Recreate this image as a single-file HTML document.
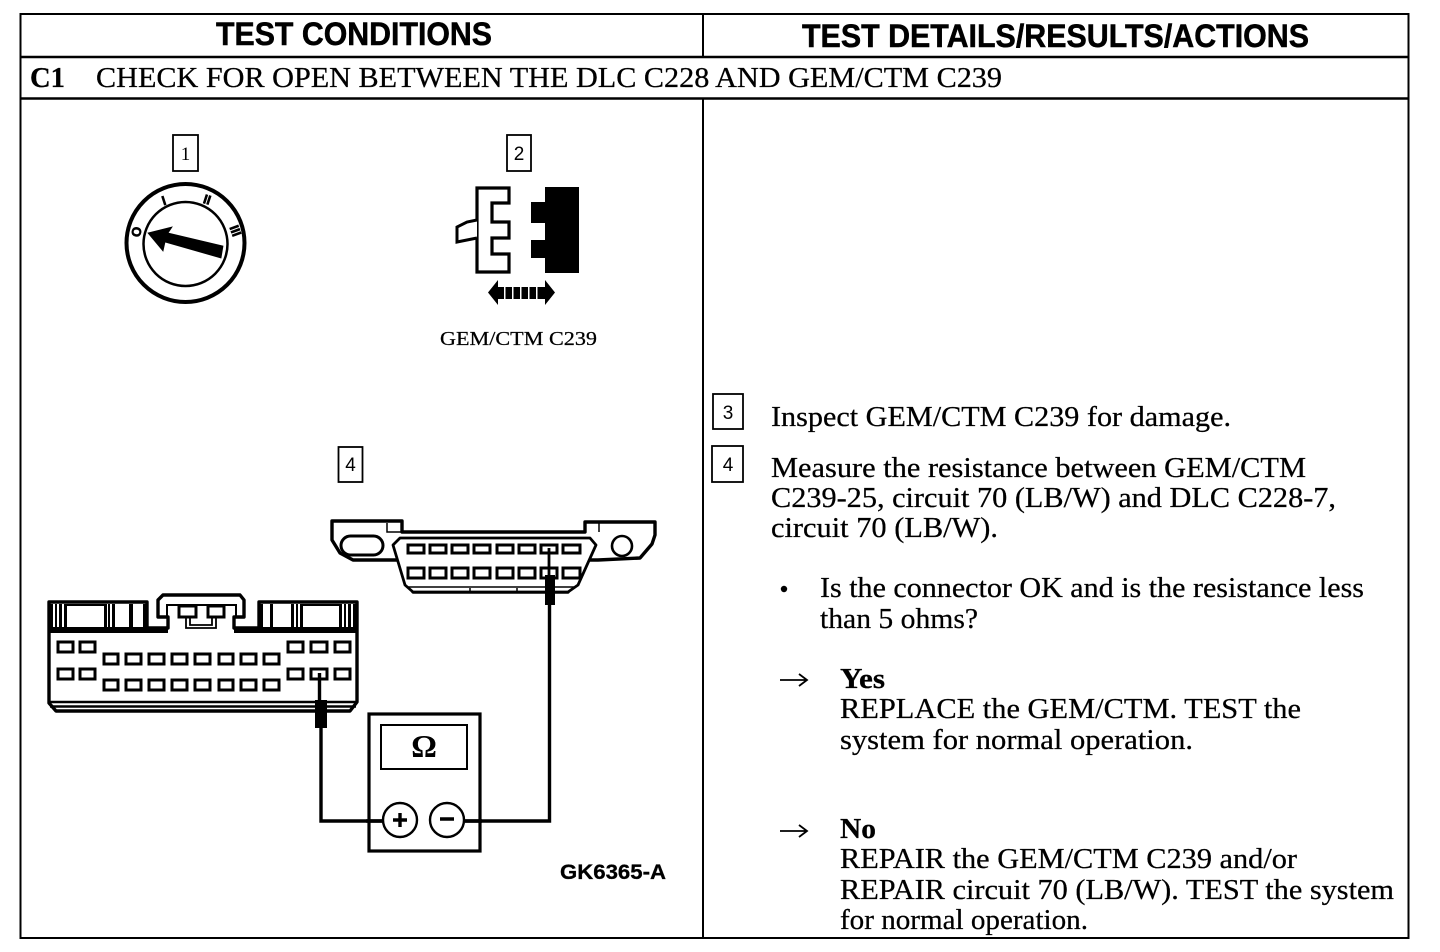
<!DOCTYPE html>
<html>
<head>
<meta charset="utf-8">
<style>
html,body{margin:0;padding:0;background:#fff;width:1440px;height:952px;overflow:hidden}
svg{display:block}
.s{font-family:"Liberation Serif",serif;fill:#000;stroke:#000;stroke-width:.25}
.t{font-size:28px}
.h{font-family:"Liberation Sans",sans-serif;font-weight:bold;font-size:32px;fill:#000;stroke:#000;stroke-width:.5}
.n{font-family:"Liberation Sans",sans-serif;font-size:19px;fill:#000;text-anchor:middle}
.slot{fill:#fff;stroke:#000;stroke-width:3}
</style>
</head>
<body>
<svg width="1440" height="952" viewBox="0 0 1440 952" xmlns="http://www.w3.org/2000/svg">
<rect width="1440" height="952" fill="#fff"/>

<!-- table -->
<g fill="none" stroke="#000">
<rect x="20.5" y="14" width="1388" height="924" stroke-width="2"/>
<path d="M20 57H1409M20 98.500H1409" stroke-width="2.500"/>
<path d="M703 14V57M703 98V938" stroke-width="2"/>
</g>
<text class="h" x="216" y="45" textLength="276" lengthAdjust="spacingAndGlyphs">TEST CONDITIONS</text>
<text class="h" x="802" y="47" textLength="507" lengthAdjust="spacingAndGlyphs">TEST DETAILS/RESULTS/ACTIONS</text>
<text class="s" x="30" y="87" font-size="29" font-weight="bold" textLength="35" lengthAdjust="spacingAndGlyphs">C1</text>
<text class="s" x="96" y="87" font-size="28" textLength="906" lengthAdjust="spacingAndGlyphs">CHECK FOR OPEN BETWEEN THE DLC C228 AND GEM/CTM C239</text>

<!-- callout boxes -->
<g fill="#fff" stroke="#000" stroke-width="1.800">
<rect x="173" y="135" width="25" height="36"/>
<rect x="507" y="135" width="24" height="36"/>
<rect x="338.500" y="447" width="24" height="35"/>
<rect x="713" y="394" width="30" height="35"/>
<rect x="712" y="446" width="31" height="36"/>
</g>
<text class="n" x="185.500" y="160" style="font-family:'Liberation Serif',serif">1</text>
<text class="n" x="519" y="160">2</text>
<text class="n" x="350.500" y="471">4</text>
<text class="n" x="728" y="419">3</text>
<text class="n" x="728" y="471">4</text>

<!-- key switch -->
<circle cx="185.500" cy="243" r="59" fill="none" stroke="#000" stroke-width="4"/>
<circle cx="185.500" cy="244" r="42" fill="none" stroke="#000" stroke-width="2.500"/>
<path d="M148 233L172 227L168 233L223 246L221 258L165 242L163 251Z" fill="#000" stroke="#000" stroke-width=".8"/>
<g font-family="Liberation Sans,sans-serif" font-weight="bold" font-size="13" fill="#000" stroke="#000" stroke-width=".7" text-anchor="middle">
<text transform="translate(137 232) rotate(-80)" x="0" y="4">O</text>
<text transform="translate(164 201) rotate(-18)" x="0" y="4">I</text>
<text transform="translate(207 200) rotate(18)" x="0" y="4">II</text>
<text transform="translate(235 231) rotate(70)" x="0" y="4">III</text>
</g>

<!-- unplugged connector -->
<path d="M477 188H509V203H492V222H509V238H492V254H509V272H477Z" fill="#fff" stroke="#000" stroke-width="3.200"/>
<path d="M477 220L467 222L457 227V242L467 240L477 238" fill="#fff" stroke="#000" stroke-width="3"/>
<path d="M545 187H579V273H545V258H531V240H545V223H531V202H545Z" fill="#000"/>
<path d="M488 292.500L498 280V305ZM555 292.500L545 280V305Z" fill="#000"/>
<g fill="#000">
<rect x="498" y="287" width="6" height="12"/>
<rect x="505.500" y="287" width="6.500" height="12"/>
<rect x="513.500" y="287" width="6.500" height="12"/>
<rect x="521.500" y="287" width="6.500" height="12"/>
<rect x="529.500" y="287" width="6.500" height="12"/>
<rect x="537.500" y="287" width="7.500" height="12"/>
</g>
<text class="s" x="440" y="345" font-size="20" textLength="157" lengthAdjust="spacingAndGlyphs">GEM/CTM C239</text>

<!-- DLC connector -->
<path d="M332 521H402V532H585V522H655V535L652 544L640 558L598 560H580L568 592H413L400 560H353L340 553L332 540Z" fill="#fff" stroke="#000" stroke-width="3.400" stroke-linejoin="round"/>
<path d="M387 523V532H402M599 532V523" fill="none" stroke="#000" stroke-width="1.500"/>
<path d="M393 545L400 538H590L596 545L578 585L568 592H413L405 585Z" fill="#fff" stroke="#000" stroke-width="2.800" stroke-linejoin="round"/>
<path d="M408 587H575M470 588V592M517 588V592" stroke="#000" stroke-width="1.500" fill="none"/>
<rect x="341" y="536" width="42" height="19" rx="9.500" fill="#fff" stroke="#000" stroke-width="3"/>
<circle cx="622" cy="546" r="10" fill="#fff" stroke="#000" stroke-width="2.600"/>
<g class="slot">
<rect x="408" y="545" width="16" height="8"/><rect x="430" y="545" width="16" height="8"/><rect x="452" y="545" width="16" height="8"/><rect x="474" y="545" width="16" height="8"/><rect x="497" y="545" width="16" height="8"/><rect x="519" y="545" width="16" height="8"/><rect x="541" y="545" width="16" height="8"/><rect x="563" y="545" width="17" height="8"/>
<rect x="408" y="568" width="16" height="10"/><rect x="430" y="568" width="16" height="10"/><rect x="452" y="568" width="16" height="10"/><rect x="474" y="568" width="16" height="10"/><rect x="497" y="568" width="16" height="10"/><rect x="519" y="568" width="16" height="10"/><rect x="541" y="568" width="16" height="10"/><rect x="563" y="568" width="17" height="10"/>
</g>

<!-- GEM connector -->
<path d="M49 602H147V628H168V617H158V600L163 595H240L244 600V617H234V628H259V602H357V702L350 711H56L49 703Z" fill="#fff" stroke="#000" stroke-width="3.400" stroke-linejoin="round"/>
<path d="M49 627H168V633H49ZM234 627H357V633H234Z" fill="#000"/>
<path d="M167 617V605H236V617" fill="none" stroke="#000" stroke-width="2"/>
<path d="M50 702H356M50 706.500H356" stroke="#000" stroke-width="2.600" fill="none"/>
<g fill="#000">
<rect x="50" y="604" width="3" height="24"/><rect x="55" y="604" width="2" height="24"/><rect x="59" y="604" width="3" height="24"/><rect x="64" y="604" width="3" height="24"/>
<rect x="104" y="604" width="3" height="24"/><rect x="108" y="604" width="2" height="24"/><rect x="112" y="604" width="3" height="24"/>
<rect x="129" y="604" width="4" height="24"/><rect x="143" y="604" width="4" height="24"/>
<rect x="259" y="604" width="4" height="24"/><rect x="270" y="604" width="3" height="24"/>
<rect x="291" y="604" width="3" height="24"/><rect x="296" y="604" width="2" height="24"/><rect x="300" y="604" width="3" height="24"/>
<rect x="339" y="604" width="3" height="24"/><rect x="344" y="604" width="2" height="24"/><rect x="348" y="604" width="3" height="24"/><rect x="353" y="604" width="3" height="24"/>
<rect x="67" y="604" width="37" height="2"/><rect x="303" y="604" width="36" height="2"/>
</g>
<rect x="179" y="606" width="17" height="11" fill="#fff" stroke="#000" stroke-width="3"/>
<rect x="208" y="606" width="16" height="11" fill="#fff" stroke="#000" stroke-width="3"/>
<path d="M186 618V628H216V618M190 618V625H212V618" fill="none" stroke="#000" stroke-width="1.800"/>
<g class="slot">
<rect x="58" y="642" width="15" height="10"/><rect x="80" y="642" width="15" height="10"/>
<rect x="58" y="669" width="15" height="10"/><rect x="80" y="669" width="15" height="10"/>
<rect x="104" y="654" width="14" height="10"/><rect x="126" y="654" width="15" height="10"/><rect x="149" y="654" width="15" height="10"/><rect x="172" y="654" width="15" height="10"/><rect x="195" y="654" width="15" height="10"/><rect x="219" y="654" width="14" height="10"/><rect x="241" y="654" width="15" height="10"/><rect x="264" y="654" width="15" height="10"/>
<rect x="104" y="680" width="14" height="10"/><rect x="126" y="680" width="15" height="10"/><rect x="149" y="680" width="15" height="10"/><rect x="172" y="680" width="15" height="10"/><rect x="195" y="680" width="15" height="10"/><rect x="219" y="680" width="14" height="10"/><rect x="241" y="680" width="15" height="10"/><rect x="264" y="680" width="15" height="10"/>
<rect x="288" y="642" width="15" height="10"/><rect x="311" y="642" width="16" height="10"/><rect x="335" y="642" width="15" height="10"/>
<rect x="288" y="669" width="15" height="10"/><rect x="311" y="669" width="16" height="10"/><rect x="335" y="669" width="15" height="10"/>
</g>

<!-- probes and wires -->
<path d="M319.500 673V700" stroke="#000" stroke-width="3.400" fill="none"/>
<rect x="315" y="700" width="12" height="28" fill="#000"/>
<path d="M321 728V821H384M465 821H549.500V605" stroke="#000" stroke-width="3.400" fill="none"/>
<path d="M549 548V575" stroke="#000" stroke-width="2.800" fill="none"/>
<rect x="545" y="575" width="10" height="30" fill="#000"/>

<!-- meter -->
<rect x="369" y="714" width="111" height="137" fill="none" stroke="#000" stroke-width="3.200"/>
<rect x="381" y="725" width="86" height="44" fill="#fff" stroke="#000" stroke-width="2"/>
<path d="M366 821H384M465 821H482" stroke="#000" stroke-width="3.400" fill="none"/>
<text x="424" y="757" font-family="Liberation Serif,serif" font-weight="bold" font-size="32" text-anchor="middle" fill="#000">Ω</text>
<circle cx="400" cy="820" r="17" fill="#fff" stroke="#000" stroke-width="2.400"/>
<circle cx="447" cy="820" r="17" fill="#fff" stroke="#000" stroke-width="2.400"/>
<path d="M393 820H407M400 813V827M440 819H454" stroke="#000" stroke-width="3.400" fill="none"/>
<text x="560" y="879" font-family="Liberation Sans,sans-serif" font-weight="bold" font-size="21" fill="#000" stroke="#000" stroke-width=".3" textLength="106" lengthAdjust="spacingAndGlyphs">GK6365-A</text>

<!-- right column text -->
<g class="s t">
<text x="771" y="426" textLength="460" lengthAdjust="spacingAndGlyphs">Inspect GEM/CTM C239 for damage.</text>
<text x="771" y="477" textLength="535" lengthAdjust="spacingAndGlyphs">Measure the resistance between GEM/CTM</text>
<text x="771" y="507" textLength="565" lengthAdjust="spacingAndGlyphs">C239-25, circuit 70 (LB/W) and DLC C228-7,</text>
<text x="771" y="537" textLength="227" lengthAdjust="spacingAndGlyphs">circuit 70 (LB/W).</text>
<text x="820" y="597" textLength="544" lengthAdjust="spacingAndGlyphs">Is the connector OK and is the resistance less</text>
<text x="820" y="628" textLength="158" lengthAdjust="spacingAndGlyphs">than 5 ohms?</text>
<text x="840" y="688" font-weight="bold" textLength="45" lengthAdjust="spacingAndGlyphs">Yes</text>
<text x="840" y="718" textLength="461" lengthAdjust="spacingAndGlyphs">REPLACE the GEM/CTM. TEST the</text>
<text x="840" y="749" textLength="353" lengthAdjust="spacingAndGlyphs">system for normal operation.</text>
<text x="840" y="838" font-weight="bold" textLength="36" lengthAdjust="spacingAndGlyphs">No</text>
<text x="840" y="868" textLength="457" lengthAdjust="spacingAndGlyphs">REPAIR the GEM/CTM C239 and/or</text>
<text x="840" y="899" textLength="554" lengthAdjust="spacingAndGlyphs">REPAIR circuit 70 (LB/W). TEST the system</text>
<text x="840" y="929" textLength="248" lengthAdjust="spacingAndGlyphs">for normal operation.</text>
</g>
<circle cx="784" cy="589" r="3.200" fill="#000"/>
<path d="M780 680H807M799 674L807 680L799 686M780 831H807M799 825L807 831L799 837" fill="none" stroke="#000" stroke-width="1.800"/>
</svg>
</body>
</html>
